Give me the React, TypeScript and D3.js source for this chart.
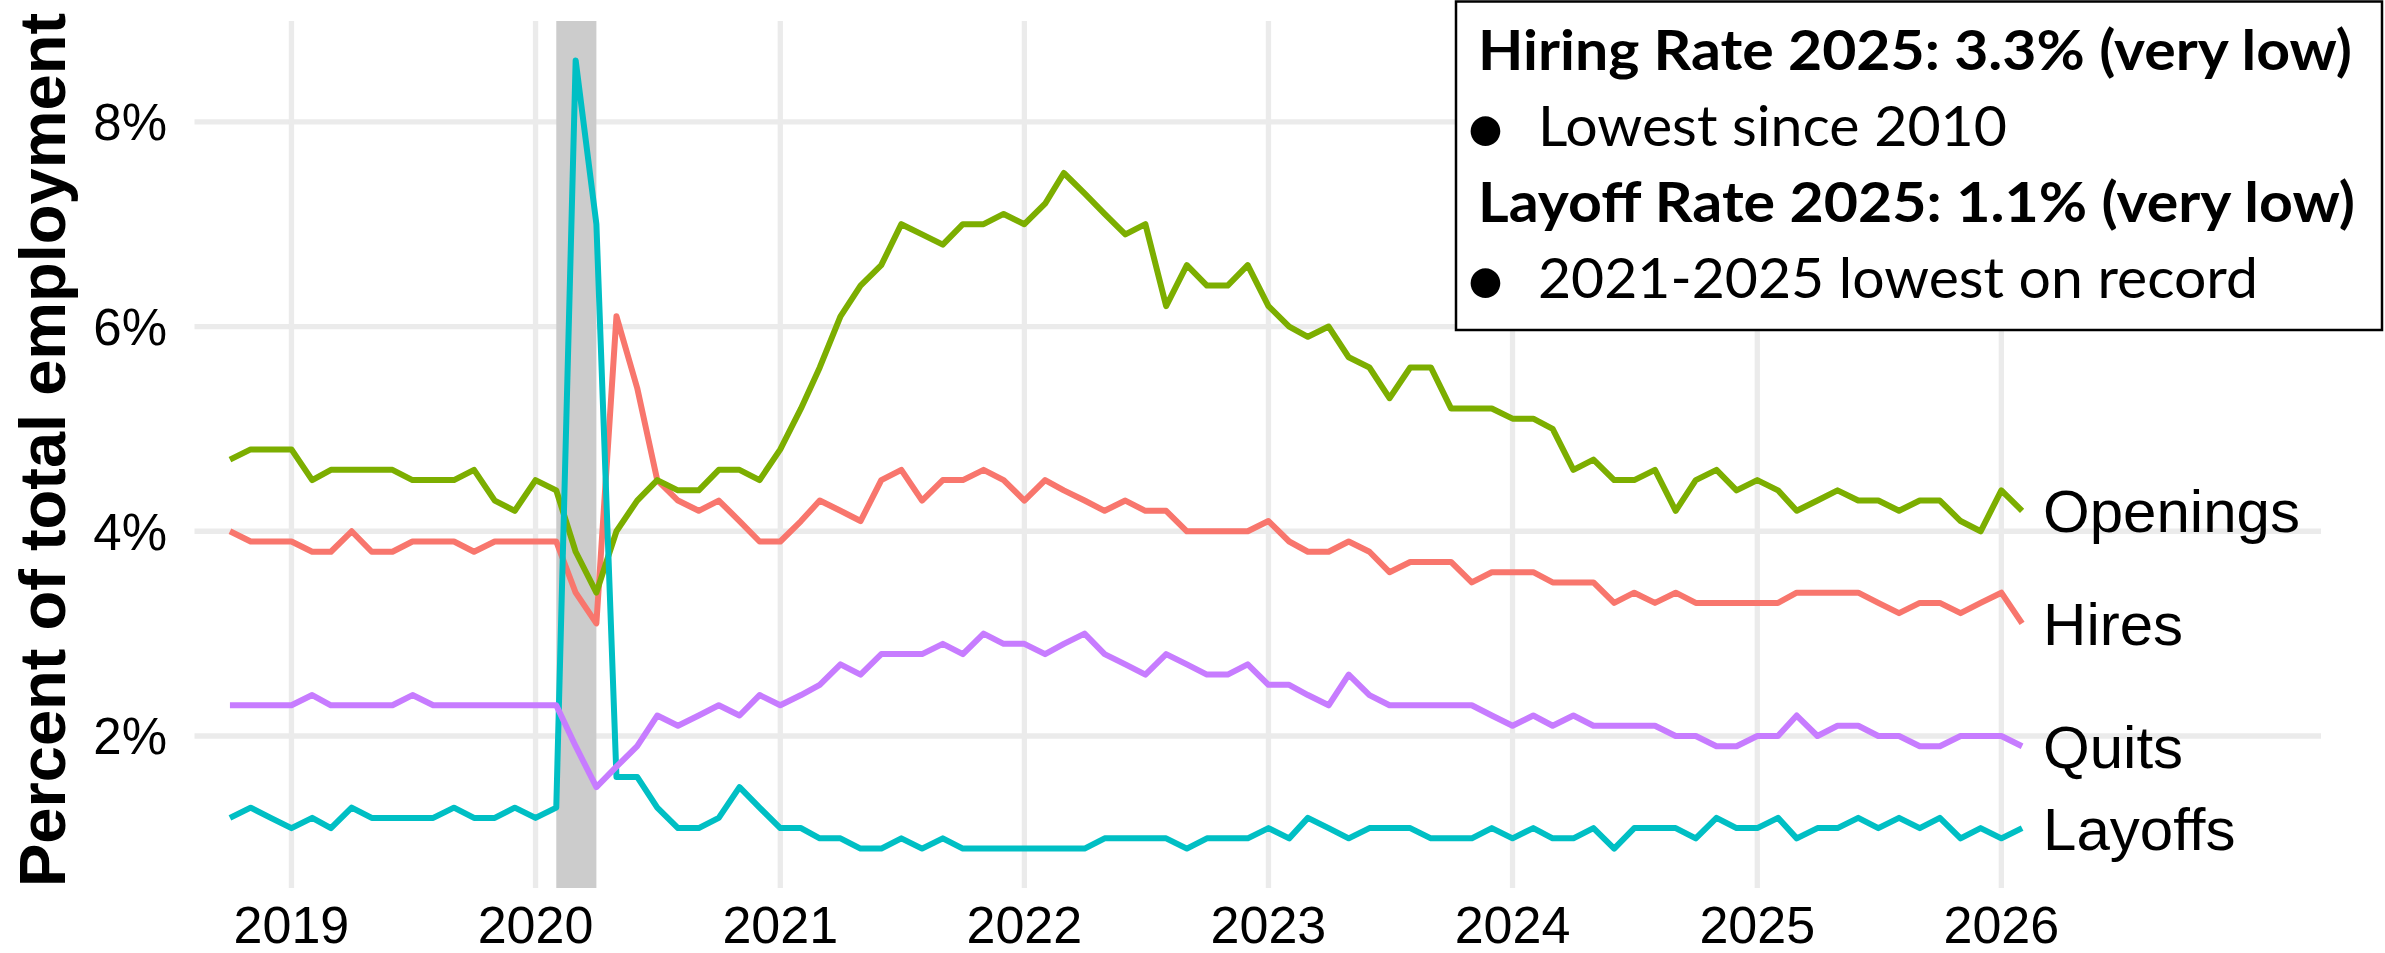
import React from "react";
import * as d3 from "d3";

// JOLTS rates, monthly Oct 2018 - Feb 2026 (percent of total employment)
const startMonth = new Date(Date.UTC(2018, 9, 1));
const endMonth = new Date(Date.UTC(2026, 2, 1));

const openings = [
  4.7, 4.8, 4.8, 4.8, 4.5, 4.6, 4.6, 4.6, 4.6, 4.5, 4.5, 4.5, 4.6, 4.3, 4.2, 4.5, 4.4, 3.8, 3.4, 4.0,
  4.3, 4.5, 4.4, 4.4, 4.6, 4.6, 4.5, 4.8, 5.2, 5.6,
  6.1, 6.4, 6.6, 7.0, 6.9, 6.8, 7.0, 7.0, 7.1, 7.0, 7.2, 7.5, 7.3, 7.1, 6.9, 7.0, 6.2, 6.6, 6.4, 6.4,
  6.6, 6.2, 6.0, 5.9, 6.0, 5.7, 5.6, 5.3, 5.6,
  5.6, 5.2, 5.2, 5.2, 5.1, 5.1, 5.0, 4.6, 4.7, 4.5, 4.5, 4.6, 4.2, 4.5, 4.6, 4.4, 4.5, 4.4, 4.2, 4.3,
  4.4, 4.3, 4.3, 4.2, 4.3, 4.3, 4.1, 4.0, 4.4, 4.2,
];

const hires = [
  4.0, 3.9, 3.9, 3.9, 3.8, 3.8, 4.0, 3.8, 3.8, 3.9, 3.9, 3.9, 3.8, 3.9, 3.9, 3.9, 3.9, 3.4, 3.1, 6.1,
  5.4, 4.5, 4.3, 4.2, 4.3, 4.1, 3.9, 3.9, 4.1, 4.3,
  4.2, 4.1, 4.5, 4.6, 4.3, 4.5, 4.5, 4.6, 4.5, 4.3, 4.5, 4.4, 4.3, 4.2, 4.3, 4.2, 4.2, 4.0, 4.0, 4.0,
  4.0, 4.1, 3.9, 3.8, 3.8, 3.9, 3.8, 3.6, 3.7,
  3.7, 3.7, 3.5, 3.6, 3.6, 3.6, 3.5, 3.5, 3.5, 3.3, 3.4, 3.3, 3.4, 3.3, 3.3, 3.3, 3.3, 3.3, 3.4, 3.4,
  3.4, 3.4, 3.3, 3.2, 3.3, 3.3, 3.2, 3.3, 3.4, 3.1,
];

const quits = [
  2.3, 2.3, 2.3, 2.3, 2.4, 2.3, 2.3, 2.3, 2.3, 2.4, 2.3, 2.3, 2.3, 2.3, 2.3, 2.3, 2.3, 1.9, 1.5, 1.7,
  1.9, 2.2, 2.1, 2.2, 2.3, 2.2, 2.4, 2.3, 2.4, 2.5,
  2.7, 2.6, 2.8, 2.8, 2.8, 2.9, 2.8, 3.0, 2.9, 2.9, 2.8, 2.9, 3.0, 2.8, 2.7, 2.6, 2.8, 2.7, 2.6, 2.6,
  2.7, 2.5, 2.5, 2.4, 2.3, 2.6, 2.4, 2.3, 2.3,
  2.3, 2.3, 2.3, 2.2, 2.1, 2.2, 2.1, 2.2, 2.1, 2.1, 2.1, 2.1, 2.0, 2.0, 1.9, 1.9, 2.0, 2.0, 2.2, 2.0,
  2.1, 2.1, 2.0, 2.0, 1.9, 1.9, 2.0, 2.0, 2.0, 1.9,
];

const layoffs = [
  1.2, 1.3, 1.2, 1.1, 1.2, 1.1, 1.3, 1.2, 1.2, 1.2, 1.2, 1.3, 1.2, 1.2, 1.3, 1.2, 1.3, 8.6, 7.0, 1.6,
  1.6, 1.3, 1.1, 1.1, 1.2, 1.5, 1.3, 1.1, 1.1, 1.0,
  1.0, 0.9, 0.9, 1.0, 0.9, 1.0, 0.9, 0.9, 0.9, 0.9, 0.9, 0.9, 0.9, 1.0, 1.0, 1.0, 1.0, 0.9, 1.0, 1.0,
  1.0, 1.1, 1.0, 1.2, 1.1, 1.0, 1.1, 1.1, 1.1,
  1.0, 1.0, 1.0, 1.1, 1.0, 1.1, 1.0, 1.0, 1.1, 0.9, 1.1, 1.1, 1.1, 1.0, 1.2, 1.1, 1.1, 1.2, 1.0, 1.1,
  1.1, 1.2, 1.1, 1.2, 1.1, 1.2, 1.0, 1.1, 1.0, 1.1,
];

const seriesNames = ["Hires", "Openings", "Layoffs", "Quits"];
const seriesColors = ["#F8766D", "#7CAE00", "#00BFC4", "#C77CFF"];
const seriesValues = [hires, openings, layoffs, quits];

const yTicks = [2, 4, 6, 8];
const yearTicks = [2019, 2020, 2021, 2022, 2023, 2024, 2025, 2026];
const recession = [new Date(Date.UTC(2020, 1, 1)), new Date(Date.UTC(2020, 3, 1))];

const noteLines = [
  { bold: true, bullet: false, text: "Hiring Rate 2025: 3.3% (very low)", len: 874 },
  { bold: false, bullet: true, text: "Lowest since 2010", len: 469 },
  { bold: true, bullet: false, text: "Layoff Rate 2025: 1.1% (very low)", len: 877 },
  { bold: false, bullet: true, text: "2021-2025 lowest on record", len: 720 },
];

const W = 2385;
const H = 953;
const left = 194.5, right = 2321, top = 21, bottom = 888;
const sans = "'Liberation Sans', Arial, sans-serif";

export default function App() {
  const months = d3.utcMonth.range(startMonth, endMonth);

  const x = d3.scaleUtc()
    .domain([new Date(Date.UTC(2018, 7, 9)), new Date(Date.UTC(2027, 3, 24))])
    .range([left, right]);
  const y = d3.scaleLinear().domain([0.515, 8.985]).range([bottom, top]);

  const line = d3.line<number>()
    .x((_, i) => x(months[i]))
    .y((d) => y(d));

  const lastDate = months[months.length - 1];

  return (
    <svg width={W} height={H} style={{ position: "absolute", left: 0, top: 0, background: "#fff" }}>
      <rect width={W} height={H} fill="#fff" />

      {/* grid */}
      {yTicks.map((t) => (
        <line key={"gy" + t} x1={left} x2={right} y1={y(t)} y2={y(t)} stroke="#EBEBEB" strokeWidth={5.3} />
      ))}
      {yearTicks.map((yr) => {
        const xx = x(new Date(Date.UTC(yr, 0, 1)));
        return <line key={"gx" + yr} x1={xx} x2={xx} y1={top} y2={bottom} stroke="#EBEBEB" strokeWidth={5.3} />;
      })}

      {/* recession shading */}
      <rect x={x(recession[0])} y={top} width={x(recession[1]) - x(recession[0])} height={bottom - top} fill="#CCCCCC" />

      {/* lines */}
      {seriesValues.map((vals, k) => (
        <path key={seriesNames[k]} d={line(vals) || ""} fill="none" stroke={seriesColors[k]}
          strokeWidth={6} strokeLinejoin="round" />
      ))}

      {/* series labels */}
      {seriesValues.map((vals, k) => (
        <text key={"lab" + k} x={x(lastDate) + 21} y={y(vals[vals.length - 1])} dy="0.36em"
          fontFamily={sans} fontSize={60} fill="#000">{seriesNames[k]}</text>
      ))}

      {/* y axis */}
      {yTicks.map((t) => (
        <text key={"ty" + t} x={167} y={y(t)} dy="0.36em" textAnchor="end" fontFamily={sans} fontSize={51} fill="#000">
          {t + "%"}
        </text>
      ))}
      <text transform="translate(65,450) rotate(-90)" textAnchor="middle" fontFamily={sans} fontSize={65}
        fontWeight="bold" fill="#000">Percent of total employment</text>

      {/* x axis */}
      {yearTicks.map((yr) => (
        <text key={"tx" + yr} x={x(new Date(Date.UTC(yr, 0, 1)))} y={943} textAnchor="middle"
          fontFamily={sans} fontSize={52} fill="#000">{yr}</text>
      ))}

      {/* note box */}
      <rect x={1456} y={1.5} width={926} height={328.5} fill="#fff" stroke="#000" strokeWidth={2.5} />
      {noteLines.map((ln, i) => {
        const base = 70 + i * 76;
        return (
          <g key={"note" + i} fontFamily="Lato, 'Open Sans', sans-serif" fontSize={56} fill="#000">
            {ln.bullet && (
              <text x={1485.5} y={base + 9} textAnchor="middle" fontSize={80}>•</text>
            )}
            <text x={ln.bullet ? 1538 : 1478} y={base} fontWeight={ln.bold ? "bold" : "normal"}
              textLength={ln.len} lengthAdjust="spacingAndGlyphs">{ln.text}</text>
          </g>
        );
      })}
    </svg>
  );
}
